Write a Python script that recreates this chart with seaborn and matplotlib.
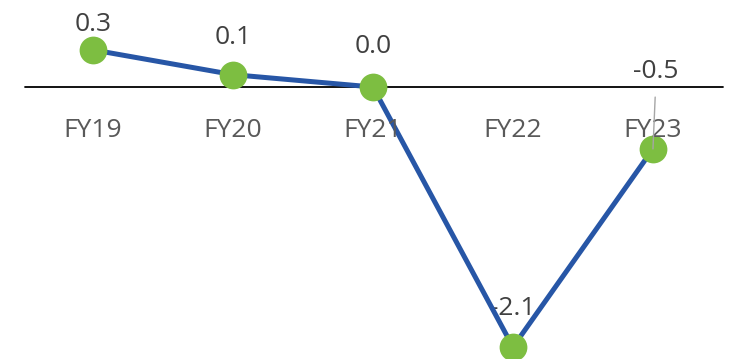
import matplotlib
matplotlib.use("Agg")
import matplotlib.pyplot as plt
import seaborn as sns
import pandas as pd

# chart data
years = ["FY19", "FY20", "FY21", "FY22", "FY23"]
values = [0.3, 0.1, 0.0, -2.1, -0.5]
labels = ["0.3", "0.1", "0.0", "-2.1", "-0.5"]

# label placement (points above each marker, baseline)
label_dy = [13.7, 22.3, 24.5, 23, 51]
label_dx = [0, 0, 0, 0, 2]

df = pd.DataFrame({"idx": range(len(years)), "value": values})

sns.set_style("white")
plt.rcParams["font.family"] = ["Open Sans", "DejaVu Sans"]

fig = plt.figure(figsize=(7.35, 3.59), dpi=100)
ax = fig.add_axes([0, 0, 1, 1])

sns.lineplot(
    data=df, x="idx", y="value", ax=ax,
    color="#2756A6", linewidth=3.6,
    marker="o", markersize=20, markerfacecolor="#7DBE41",
    markeredgewidth=0, zorder=3,
)
for line in ax.lines:
    line.set_clip_on(False)

ax.set_xlim(-0.664, 4.586)
ax.set_ylim(-2.197, 0.703)
ax.axhline(0, xmin=(-0.486 + 0.664) / 5.25, xmax=(4.5 + 0.664) / 5.25,
           color="black", linewidth=1.3, zorder=1)

# category labels below the zero line
for i, yr in enumerate(years):
    ax.annotate(yr, (i, 0), xytext=(0, -31), textcoords="offset points",
                ha="center", va="center", fontsize=19, color="#595959")

# data labels
for i, (v, lab) in enumerate(zip(values, labels)):
    kw = dict(xytext=(label_dx[i], label_dy[i]), textcoords="offset points",
              ha="center", va="baseline", fontsize=19, color="#404040")
    if lab == "-0.5":
        kw["arrowprops"] = dict(arrowstyle="-", color="#A6A6A6", lw=1,
                                shrinkA=7, shrinkB=0,
                                relpos=(0.5, 0.0))
        ax.annotate(lab, (i, v), **kw)
    else:
        ax.annotate(lab, (i, v), zorder=2, **kw)

ax.set_axis_off()
fig.savefig("out.png", dpi=100)
